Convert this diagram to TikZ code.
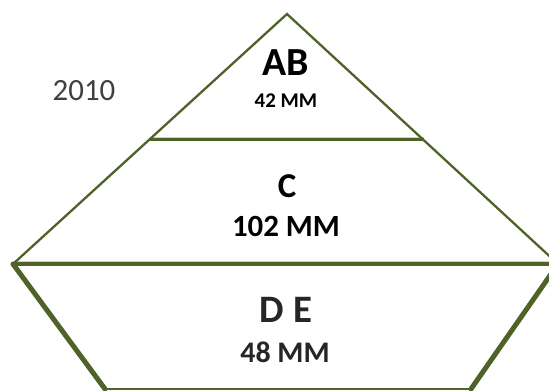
\documentclass[tikz,border=0pt]{standalone}
\usepackage{fontspec}
\setmainfont{Carlito}
\definecolor{olive}{RGB}{79,98,40}
\definecolor{shadowc}{RGB}{205,210,190}
\definecolor{darktext}{RGB}{38,38,38}
\definecolor{yeartext}{RGB}{64,64,64}
\begin{document}
\begin{tikzpicture}[x=1bp,y=-1bp,
  thinedge/.style={draw=olive,line width=2.3bp},
  midedge/.style={draw=olive,line width=3.4bp},
  thickedge/.style={draw=olive,line width=5bp,line cap=round,line join=round},
  baseedge/.style={draw=olive,line width=1.4bp},
  lbl/.style={anchor=base,inner sep=0pt,font=\bfseries},
]
\useasboundingbox (0,0) rectangle (549,390);
\clip (0,0) rectangle (549,390);
% key points
\coordinate (apex) at (287,14);
\coordinate (lv) at (13,264);
\coordinate (rv) at (558,264);
\coordinate (m1l) at (150,139.5);
\coordinate (m1r) at (424,139.5);
\coordinate (bl) at (105,389);
\coordinate (br) at (471,389);
% shadows under horizontals
\draw[shadowc,line width=1.2bp] ([yshift=2.4bp]m1l) -- ([yshift=2.4bp]m1r);
\draw[shadowc,line width=1.2bp] ([yshift=2.4bp]lv) -- ([yshift=2.4bp]rv);
% triangle
\path[thinedge] (lv) -- (apex) -- (rv);
% horizontal dividers
\path[midedge] (m1l) -- (m1r);
\path[midedge] (lv) -- (rv);
% bottom trapezoid
\path[thickedge] (lv) -- (bl);
\path[thickedge] (rv) -- (br);
\path[baseedge] (bl) -- (br);
% labels
\node[lbl,font=\bfseries\fontsize{40}{40}\selectfont] (ab) at (286,75) {AB};
\node[lbl,font=\bfseries\fontsize{21}{21}\selectfont] (abv) at (286,107) {42 MM};
\node[lbl,font=\bfseries\fontsize{35}{35}\selectfont] (c) at (287,197) {C};
\node[lbl,font=\bfseries\fontsize{31}{31}\selectfont] (cv) at (286,236) {102 MM};
\node[lbl,text=darktext,font=\bfseries\fontsize{39}{39}\selectfont] (de) at (286,322) {D E};
\node[lbl,text=darktext,font=\bfseries\fontsize{30}{30}\selectfont] (dev) at (285,362) {48 MM};
\node[anchor=base,inner sep=0pt,text=yeartext,font=\fontsize{31}{31}\selectfont] (yr) at (84,100) {2010};
\end{tikzpicture}
\end{document}
